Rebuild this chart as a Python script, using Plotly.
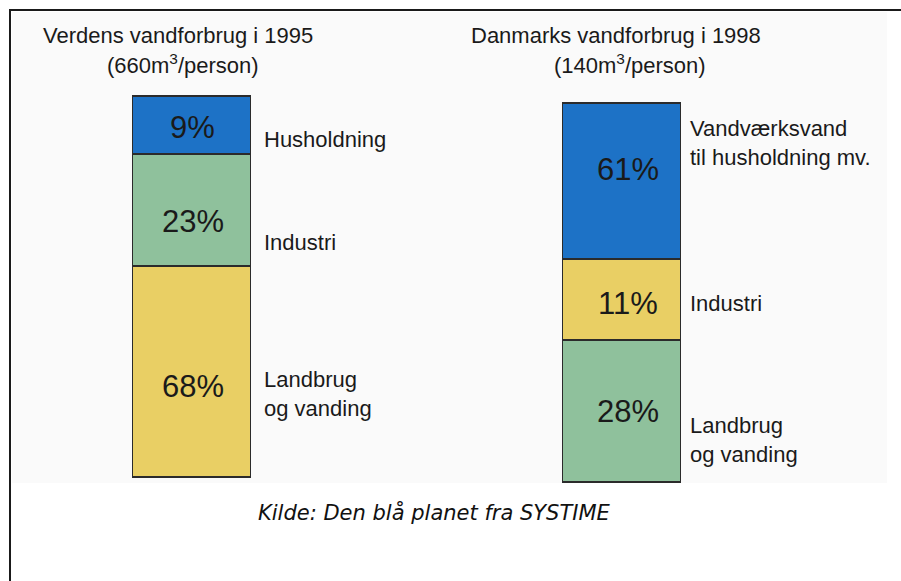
import numpy as np
import plotly.graph_objects as go

# ---------------- data ----------------
groups = ["Verden 1995", "Danmark 1998"]
titles = ["Verdens vandforbrug i 1995", "Danmarks vandforbrug i 1998"]
subtitles = ["(660m<sup>3</sup>/person)", "(140m<sup>3</sup>/person)"]

# segments listed bottom -> top
world_categories = ["Landbrug<br>og vanding", "Industri", "Husholdning"]
world_shares = [68, 23, 9]                 # printed percentages
world_drawn = [55.4, 29.4, 15.2]           # segment heights as drawn (schematic)

dk_categories = ["Landbrug<br>og vanding", "Industri", "Vandværksvand<br>til husholdning mv."]
dk_shares = [28, 11, 61]
dk_drawn = [37.5, 21.4, 41.1]

source_text = "Kilde: Den blå planet fra SYSTIME"

# ---------------- styles ----------------
BLUE = "#1d72c6"
GREEN = "#8fc19c"
YELLOW = "#e9cf64"
world_colors = [YELLOW, GREEN, BLUE]
dk_colors = [GREEN, YELLOW, BLUE]
FONT = "Liberation Sans, Arial, sans-serif"
W, H = 901, 581
bar_width = 0.274

# fine offsets (px) for text placement relative to segment centres
world_pct_shift = [-15, -12, -3]
world_lab_shift = [-23, -33, -15]
dk_pct_shift = [-1, -4, 11]
dk_lab_shift = [-29, -4, 38]

fig = go.Figure()

def add_stack(group, cats, drawn, colors, yaxis):
    for cat, h, c in zip(cats, drawn, colors):
        fig.add_trace(go.Bar(
            x=[group], y=[h], name=cat.replace("<br>", " "),
            marker=dict(color=c, line=dict(color="#2b2b2b", width=1.5)),
            width=bar_width, yaxis=yaxis, showlegend=False, hoverinfo="skip",
        ))

add_stack(groups[0], world_categories, world_drawn, world_colors, "y")
add_stack(groups[1], dk_categories, dk_drawn, dk_colors, "y2")

annotations = []

def add_texts(group, cats, shares, drawn, yref, pct_shift, lab_shift, lab_xshift, pct_xshift):
    tops = np.cumsum(drawn)
    centers = tops - np.array(drawn) / 2
    for cat, s, cy, ps, ls in zip(cats, shares, centers, pct_shift, lab_shift):
        annotations.append(dict(
            x=group, y=cy, xref="x", yref=yref, text=f"{s}%", showarrow=False,
            xanchor="center", yanchor="middle",
            xshift=pct_xshift, yshift=ps, font=dict(family=FONT, size=31, color="#1a1a1a"),
        ))
        annotations.append(dict(
            x=group, y=cy, xref="x", yref=yref, text=cat, showarrow=False,
            xanchor="left", yanchor="middle", align="left", xshift=lab_xshift, yshift=ls,
            font=dict(family=FONT, size=22, color="#1a1a1a"),
        ))

add_texts(groups[0], world_categories, world_shares, world_drawn, "y",
          world_pct_shift, world_lab_shift, 70, 1)
add_texts(groups[1], dk_categories, dk_shares, dk_drawn, "y2",
          dk_pct_shift, dk_lab_shift, 66, 6)

# titles
for t, st, cx, scx in zip(titles, subtitles, [178, 616], [183, 630]):
    annotations.append(dict(x=cx / W, y=1 - 36 / H, xref="paper", yref="paper", text=t,
                            xanchor="center", yanchor="middle", showarrow=False,
                            font=dict(family=FONT, size=22, color="#1a1a1a")))
    annotations.append(dict(x=scx / W, y=1 - 64 / H, xref="paper", yref="paper", text=st,
                            xanchor="center", yanchor="middle", showarrow=False,
                            font=dict(family=FONT, size=22, color="#1a1a1a")))

annotations.append(dict(x=434 / W, y=1 - 512 / H, xref="paper", yref="paper", text=source_text,
                        xanchor="center", yanchor="middle", showarrow=False,
                        font=dict(family="DejaVu Sans, Verdana, sans-serif", size=21,
                                  color="#111111", style="italic")))

shapes = [
    dict(type="rect", xref="paper", yref="paper", x0=12 / W, x1=887 / W,
         y0=1 - 483 / H, y1=1 - 12 / H, fillcolor="#fafafa", line=dict(width=0), layer="below"),
    dict(type="rect", xref="paper", yref="paper", x0=10 / W, x1=1.02,
         y0=-0.02, y1=1 - 10 / H, line=dict(color="#1a1a1a", width=2), layer="above"),
]

px_per_cat = 430.0
c0 = 191.5
fig.update_layout(
    width=W, height=H,
    margin=dict(l=0, r=0, t=0, b=0),
    paper_bgcolor="white", plot_bgcolor="rgba(0,0,0,0)",
    barmode="stack",
    xaxis=dict(type="category", categoryorder="array", categoryarray=groups,
               range=[-c0 / px_per_cat, (W - c0) / px_per_cat], visible=False, fixedrange=True),
    yaxis=dict(range=[-(H - 477) / 3.81, 100 + 96 / 3.81], visible=False, fixedrange=True),
    yaxis2=dict(range=[-(H - 482) / 3.79, 100 + 103 / 3.79], visible=False,
                overlaying="y", fixedrange=True),
    annotations=annotations,
    shapes=shapes,
)

fig.write_html("out.html", config={"displayModeBar": False},
               post_script="document.body.style.margin='0';")
